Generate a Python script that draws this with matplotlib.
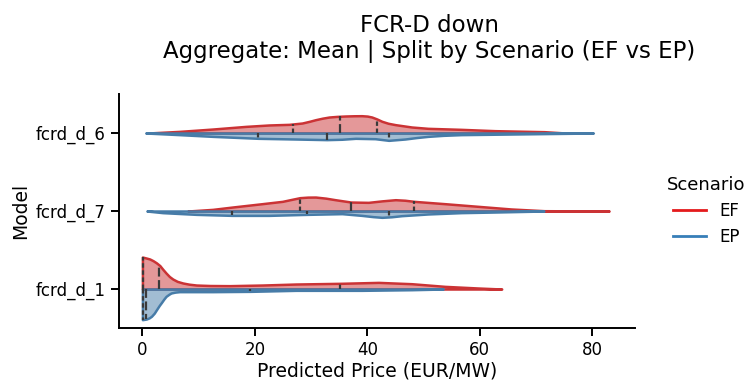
import numpy as np
import matplotlib.pyplot as plt
from matplotlib.colors import to_rgba
from matplotlib.lines import Line2D

# Models, top to bottom
models = ["fcrd_d_6", "fcrd_d_7", "fcrd_d_1"]
scenarios = ["EF", "EP"]

# Density profiles (price grid, half-width in category units)
ef6_price = [1.0, 6.6, 12.5, 18.4, 22.5, 26.1, 28.4, 29.7, 30.8, 32.0, 33.2, 34.6, 36.1, 37.6, 39.0, 40.0, 40.8, 41.7, 42.6, 43.7, 45.0, 47.9, 50.8, 56.7, 62.7, 71.5, 75.3]
ef6_dens = [0.0, 0.021, 0.051, 0.085, 0.103, 0.111, 0.128, 0.150, 0.171, 0.190, 0.205, 0.213, 0.218, 0.221, 0.222, 0.217, 0.205, 0.180, 0.150, 0.125, 0.107, 0.077, 0.060, 0.047, 0.030, 0.017, 0.0]
ep6_price = [0.6, 6.6, 12.5, 20.6, 27.3, 32.8, 35.5, 37.9, 41.4, 43.8, 46.7, 48.8, 50.8, 53.5, 56.7, 65.6, 80.2]
ep6_dens = [0.0, 0.021, 0.043, 0.068, 0.077, 0.085, 0.080, 0.068, 0.073, 0.094, 0.077, 0.058, 0.043, 0.030, 0.021, 0.013, 0.0]

ef7_price = [8.1, 12.5, 16.0, 21.3, 24.9, 26.6, 28.0, 29.4, 30.8, 32.6, 34.3, 37.1, 40.2, 42.6, 45.0, 46.7, 48.3, 53.8, 59.7, 65.6, 71.5, 83.0]
ef7_dens = [0.0, 0.021, 0.051, 0.094, 0.124, 0.150, 0.171, 0.178, 0.179, 0.165, 0.145, 0.115, 0.111, 0.130, 0.145, 0.138, 0.124, 0.094, 0.060, 0.026, 0.004, 0.0]
ep7_price = [0.8, 3.6, 9.6, 16.0, 22.5, 29.3, 35.5, 39.0, 41.0, 42.6, 44.3, 46.1, 50.8, 56.7, 62.7, 71.4]
ep7_dens = [0.0, 0.021, 0.043, 0.056, 0.056, 0.043, 0.034, 0.056, 0.072, 0.081, 0.074, 0.060, 0.038, 0.021, 0.013, 0.0]

ef1_price = [0.0, 0.7, 1.3, 1.9, 2.5, 3.1, 3.6, 4.2, 4.8, 5.4, 6.2, 7.2, 8.3, 9.6, 12.0, 15.5, 21.3, 27.3, 35.2, 42.0, 47.9, 53.8, 59.7, 63.9]
ef1_dens = [0.41, 0.397, 0.385, 0.363, 0.335, 0.300, 0.255, 0.205, 0.160, 0.128, 0.098, 0.077, 0.062, 0.051, 0.045, 0.043, 0.051, 0.064, 0.073, 0.085, 0.068, 0.034, 0.013, 0.0]
ep1_price = [0.0, 0.7, 1.2, 1.6, 2.1, 2.5, 3.0, 3.4, 3.8, 4.2, 4.7, 5.1, 5.8, 6.6, 12.5, 19.2, 27.3, 39.0, 47.9, 53.5]
ep1_dens = [0.393, 0.385, 0.370, 0.350, 0.310, 0.265, 0.210, 0.171, 0.130, 0.094, 0.068, 0.051, 0.040, 0.034, 0.034, 0.030, 0.017, 0.017, 0.009, 0.0]

# Quartiles (Q1, median, Q3)
ef6_q = [26.8, 35.2, 41.8]
ep6_q = [20.6, 32.8, 43.8]
ef7_q = [28.0, 37.1, 48.3]
ep7_q = [16.0, 29.3, 43.9]
ef1_q = [0.05, 3.0, 35.2]
ep1_q = [0.15, 0.6, 19.2]

profiles = {
    ("fcrd_d_6", "EF"): (ef6_price, ef6_dens, ef6_q),
    ("fcrd_d_6", "EP"): (ep6_price, ep6_dens, ep6_q),
    ("fcrd_d_7", "EF"): (ef7_price, ef7_dens, ef7_q),
    ("fcrd_d_7", "EP"): (ep7_price, ep7_dens, ep7_q),
    ("fcrd_d_1", "EF"): (ef1_price, ef1_dens, ef1_q),
    ("fcrd_d_1", "EP"): (ep1_price, ep1_dens, ep1_q),
}

edge_colors = {"EF": "#cb3335", "EP": "#477ca8"}
legend_colors = {"EF": "#e41a1c", "EP": "#377eb8"}
side = {"EF": -1, "EP": 1}  # EF on the upper half, EP on the lower half
quart_dashes = [(1.25, 0.75), (2.5, 1), (1.25, 0.75)]

fig = plt.figure(figsize=(7.45, 3.8), dpi=100)
ax = fig.add_axes([0.1597, 0.1368, 0.6926, 0.6158])

for pos, model in enumerate(models):
    for scen in scenarios:
        price, dens, quarts = profiles[(model, scen)]
        price = np.array(price)
        dens = np.array(dens)
        sgn = side[scen]
        ax.fill_between(price, pos, pos + sgn * dens,
                        facecolor=to_rgba(edge_colors[scen], 0.5),
                        edgecolor=edge_colors[scen], linewidth=1.8,
                        joinstyle="round", zorder=2)
        for q, dsh in zip(quarts, quart_dashes):
            h = np.interp(q, price, dens)
            ax.plot([q, q], [pos, pos + sgn * h], color="#3a3a3a", lw=1.6,
                    dashes=[d * 1.6 for d in dsh], zorder=3)

ax.set_ylim(2.5, -0.5)
ax.set_xlim(-4.17, 87.6)
ax.set_yticks(range(len(models)))
ax.set_yticklabels(models)
ax.set_xticks([0, 20, 40, 60, 80])
ax.tick_params(labelsize=12, length=6, width=1.4)
for s in ["top", "right"]:
    ax.spines[s].set_visible(False)
for s in ["left", "bottom"]:
    ax.spines[s].set_linewidth(1.4)
ax.set_xlabel("Predicted Price (EUR/MW)", fontsize=13.5, labelpad=2)
ax.set_ylabel("Model", fontsize=13.5)

fig.text(0.576, 0.962, "FCR-D down\nAggregate: Mean | Split by Scenario (EF vs EP)",
         ha="center", va="top", fontsize=16.5, multialignment="center",
         linespacing=1.15)

handles = [Line2D([], [], color=legend_colors[s], lw=2) for s in scenarios]
leg = fig.legend(handles, scenarios, title="Scenario", loc="center left",
                 bbox_to_anchor=(0.875, 0.445), frameon=False, fontsize=12,
                 title_fontsize=13)

fig.savefig("out.png", dpi=100)
